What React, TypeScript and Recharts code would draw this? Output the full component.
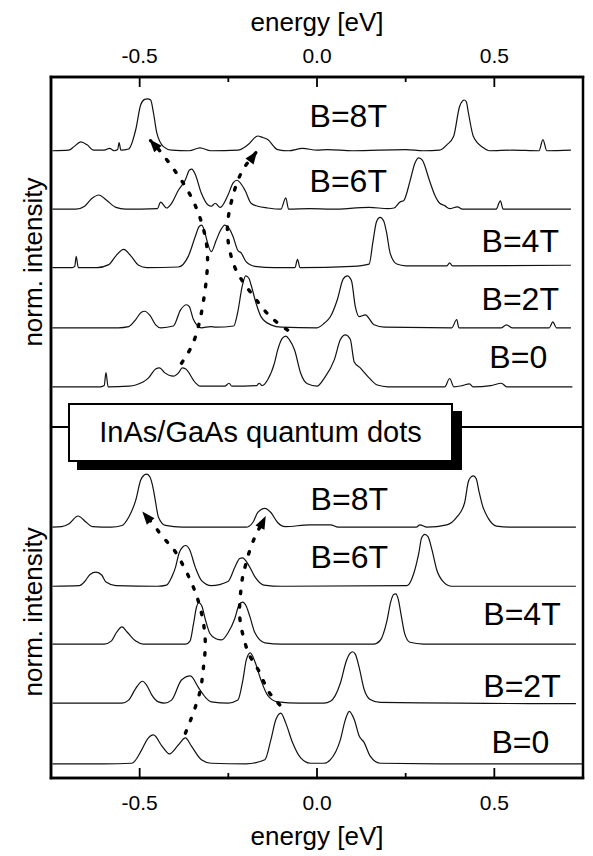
import React from 'react';
import { ComposedChart, Line, XAxis, YAxis, ReferenceLine, ReferenceArea, Scatter } from 'recharts';

type Pt = [number, number];

const FONT = "'Liberation Sans', Arial, Helvetica, sans-serif";

// ---- axes ----
const energyDomain: [number, number] = [-0.75, 0.75];
const energyTicks = [-0.5, -0.25, 0, 0.25, 0.5];
const energyTickLabels = ['-0.5', '', '0.0', '', '0.5'];
const intensityDomain: [number, number] = [0, 11.88];
const energyTitle = 'energy [eV]';
const intensityTitle = 'norm. intensity';
const sampleTitle = 'InAs/GaAs quantum dots';

// ---- stacking ----
const fieldLabels = ['B=8T', 'B=6T', 'B=4T', 'B=2T', 'B=0'];
const upperOffsets = [10.63, 9.64, 8.65, 7.63, 6.63];
const lowerOffsets = [4.25, 3.25, 2.27, 1.27, 0.24];
const panelDivider = 5.95;

// anchors (energy, intensity) of the field labels
const upperLabelAnchors: Pt[] = [[-0.021, 11.03], [-0.021, 9.93], [0.464, 8.92], [0.464, 7.93], [0.486, 6.95]];
const lowerLabelAnchors: Pt[] = [[-0.018, 4.54], [-0.018, 3.56], [0.469, 2.59], [0.469, 1.37], [0.492, 0.42]];

// ---- upper panel spectra: [energy (eV), normalized intensity] ----
const upper8T: Pt[] = [
  [-0.746, 0], [-0.7, 0.01], [-0.685, 0.07], [-0.666, 0.15], [-0.648, 0.1], [-0.63, 0.01], [-0.6, 0.01],
  [-0.585, 0.04], [-0.572, 0], [-0.562, 0.02], [-0.558, 0.14], [-0.553, 0.01], [-0.531, 0.03], [-0.511, 0.36],
  [-0.497, 0.78], [-0.486, 0.87], [-0.478, 0.88], [-0.469, 0.86], [-0.461, 0.64], [-0.452, 0.31],
  [-0.433, 0.07], [-0.41, 0.01], [-0.36, 0], [-0.33, 0.05], [-0.3, 0], [-0.223, 0.01], [-0.195, 0.1],
  [-0.167, 0.25], [-0.155, 0.23], [-0.139, 0.19], [-0.111, 0.02], [-0.08, 0], [-0.041, 0.04], [0, 0.01],
  [0.03, 0.02], [0.1, 0], [0.25, 0.02], [0.3, 0], [0.346, 0.01], [0.366, 0.1], [0.385, 0.24], [0.402, 0.75],
  [0.41, 0.84], [0.415, 0.86], [0.421, 0.83], [0.427, 0.64], [0.441, 0.24], [0.469, 0.05], [0.486, 0],
  [0.55, 0.01], [0.626, 0], [0.637, 0.19], [0.648, 0], [0.716, 0.01],
];
const upper6T: Pt[] = [
  [-0.746, 0], [-0.68, 0], [-0.655, 0.05], [-0.635, 0.18], [-0.615, 0.24], [-0.595, 0.16], [-0.567, 0.03],
  [-0.54, 0], [-0.45, 0.01], [-0.441, 0.12], [-0.424, 0.02], [-0.41, 0.1], [-0.391, 0.32], [-0.371, 0.5],
  [-0.36, 0.66], [-0.353, 0.68], [-0.344, 0.6], [-0.326, 0.27], [-0.307, 0.07], [-0.298, 0.05],
  [-0.287, 0.1], [-0.273, 0.03], [-0.251, 0.24], [-0.236, 0.45], [-0.226, 0.49], [-0.203, 0.32],
  [-0.186, 0.1], [-0.167, 0.05], [-0.139, 0.02], [-0.102, 0], [-0.088, 0.19], [-0.08, 0], [-0.02, 0.01],
  [0.04, 0], [0.147, 0.03], [0.2, 0.01], [0.217, 0.02], [0.234, 0.12], [0.245, 0.15], [0.262, 0.47],
  [0.276, 0.78], [0.287, 0.87], [0.297, 0.83], [0.318, 0.47], [0.332, 0.24], [0.346, 0.1], [0.36, 0.06],
  [0.374, 0.01], [0.396, 0.04], [0.41, 0], [0.505, 0], [0.517, 0.14], [0.525, 0], [0.716, 0],
];
const upper4T: Pt[] = [
  [-0.746, 0], [-0.69, 0], [-0.683, 0.02], [-0.679, 0.19], [-0.673, 0], [-0.62, 0], [-0.587, 0.05],
  [-0.567, 0.2], [-0.545, 0.31], [-0.525, 0.2], [-0.503, 0.04], [-0.48, 0], [-0.391, 0.01], [-0.363, 0.19],
  [-0.343, 0.53], [-0.333, 0.69], [-0.326, 0.72], [-0.318, 0.64], [-0.31, 0.45], [-0.298, 0.27],
  [-0.285, 0.45], [-0.273, 0.62], [-0.26, 0.72], [-0.25, 0.68], [-0.237, 0.53], [-0.223, 0.29],
  [-0.214, 0.25], [-0.2, 0.1], [-0.175, 0.02], [-0.12, 0], [-0.062, 0], [-0.055, 0.14], [-0.048, 0],
  [0.1, 0.02], [0.147, 0.06], [0.158, 0.45], [0.168, 0.78], [0.178, 0.85], [0.188, 0.79], [0.196, 0.6],
  [0.206, 0.25], [0.225, 0.06], [0.25, 0.03], [0.366, 0.03], [0.374, 0.08], [0.382, 0.03], [0.716, 0.04],
];
const upper2T: Pt[] = [
  [-0.746, 0], [-0.56, 0], [-0.531, 0.02], [-0.511, 0.14], [-0.496, 0.26], [-0.486, 0.28], [-0.47, 0.2],
  [-0.455, 0.05], [-0.44, 0], [-0.405, 0.03], [-0.385, 0.3], [-0.368, 0.39], [-0.36, 0.36], [-0.349, 0.15],
  [-0.326, 0], [-0.3, 0.02], [-0.285, 0.01], [-0.235, 0.03], [-0.223, 0.28], [-0.211, 0.7], [-0.201, 0.88],
  [-0.192, 0.84], [-0.186, 0.73], [-0.172, 0.42], [-0.158, 0.19], [-0.13, 0.05], [-0.1, 0.01], [0, 0],
  [0.021, 0.08], [0.038, 0.19], [0.057, 0.47], [0.074, 0.83], [0.085, 0.88], [0.097, 0.8], [0.108, 0.36],
  [0.119, 0.19], [0.136, 0.22], [0.161, 0.05], [0.19, 0.01], [0.38, 0], [0.394, 0.14], [0.4, 0], [0.52, 0],
  [0.534, 0.05], [0.55, 0], [0.655, 0], [0.665, 0.1], [0.675, 0], [0.716, 0],
];
const upper0T: Pt[] = [
  [-0.746, 0], [-0.61, 0], [-0.6, 0.02], [-0.595, 0.24], [-0.589, 0], [-0.53, 0.01], [-0.511, 0.03],
  [-0.475, 0.15], [-0.455, 0.3], [-0.444, 0.32], [-0.43, 0.24], [-0.405, 0.18], [-0.39, 0.24], [-0.38, 0.32],
  [-0.37, 0.3], [-0.343, 0.07], [-0.33, 0.01], [-0.26, 0.01], [-0.248, 0.06], [-0.24, 0.01], [-0.17, 0.02],
  [-0.163, 0.06], [-0.155, 0.02], [-0.139, 0.12], [-0.12, 0.4], [-0.111, 0.62], [-0.098, 0.82],
  [-0.088, 0.86], [-0.078, 0.8], [-0.063, 0.62], [-0.046, 0.23], [-0.027, 0.05], [0, 0.01], [0.021, 0.15],
  [0.049, 0.46], [0.066, 0.8], [0.08, 0.88], [0.094, 0.8], [0.105, 0.42], [0.122, 0.32], [0.147, 0.15],
  [0.17, 0.03], [0.2, 0], [0.36, 0], [0.374, 0.14], [0.386, 0], [0.41, 0.02], [0.43, 0.05], [0.44, 0],
  [0.49, 0.02], [0.52, 0.06], [0.535, 0], [0.72, 0],
];

// ---- lower panel spectra ----
const lower8T: Pt[] = [
  [-0.746, 0], [-0.72, 0.01], [-0.699, 0.06], [-0.674, 0.19], [-0.65, 0.08], [-0.633, 0.01], [-0.58, 0],
  [-0.55, 0.03], [-0.531, 0.17], [-0.511, 0.46], [-0.497, 0.8], [-0.488, 0.88], [-0.48, 0.9], [-0.471, 0.85],
  [-0.461, 0.63], [-0.455, 0.42], [-0.447, 0.17], [-0.427, 0.03], [-0.38, 0], [-0.2, 0], [-0.181, 0.08],
  [-0.167, 0.25], [-0.147, 0.32], [-0.13, 0.25], [-0.111, 0.08], [-0.09, 0.01], [-0.021, 0.04], [0.038, 0.04],
  [0.06, 0], [0.28, 0], [0.29, 0.04], [0.31, 0], [0.366, 0.04], [0.394, 0.17], [0.416, 0.41], [0.427, 0.78],
  [0.434, 0.85], [0.441, 0.87], [0.449, 0.82], [0.457, 0.6], [0.466, 0.38], [0.483, 0.15], [0.506, 0.02],
  [0.55, 0], [0.73, 0],
];
const lower6T: Pt[] = [
  [-0.746, 0], [-0.67, 0.01], [-0.655, 0.08], [-0.64, 0.2], [-0.623, 0.24], [-0.607, 0.19], [-0.595, 0.07],
  [-0.567, 0.01], [-0.45, 0], [-0.424, 0.02], [-0.41, 0.15], [-0.399, 0.32], [-0.389, 0.56], [-0.378, 0.67],
  [-0.37, 0.69], [-0.36, 0.63], [-0.343, 0.32], [-0.326, 0.1], [-0.298, 0.01], [-0.251, 0.08],
  [-0.231, 0.33], [-0.218, 0.47], [-0.21, 0.48], [-0.195, 0.38], [-0.175, 0.16], [-0.15, 0.02], [-0.1, 0],
  [0.254, 0.01], [0.273, 0.22], [0.287, 0.56], [0.295, 0.82], [0.304, 0.88], [0.313, 0.84], [0.324, 0.62],
  [0.338, 0.27], [0.357, 0.07], [0.38, 0], [0.73, 0],
];
const lower4T: Pt[] = [
  [-0.746, 0], [-0.6, 0], [-0.58, 0.05], [-0.565, 0.2], [-0.55, 0.29], [-0.535, 0.2], [-0.511, 0.05],
  [-0.49, 0], [-0.37, 0], [-0.358, 0.05], [-0.348, 0.35], [-0.34, 0.62], [-0.333, 0.7], [-0.325, 0.65],
  [-0.315, 0.42], [-0.302, 0.18], [-0.285, 0.09], [-0.269, 0.07], [-0.25, 0.2], [-0.232, 0.43],
  [-0.22, 0.66], [-0.21, 0.71], [-0.2, 0.65], [-0.189, 0.46], [-0.175, 0.19], [-0.147, 0.02], [-0.1, 0],
  [0.16, 0], [0.178, 0.06], [0.197, 0.39], [0.208, 0.72], [0.216, 0.84], [0.222, 0.85], [0.229, 0.76],
  [0.237, 0.5], [0.247, 0.18], [0.262, 0.03], [0.3, 0], [0.73, 0],
];
const lower2T: Pt[] = [
  [-0.746, 0], [-0.55, 0], [-0.531, 0.05], [-0.511, 0.25], [-0.492, 0.37], [-0.48, 0.3], [-0.466, 0.14],
  [-0.447, 0.02], [-0.43, 0], [-0.41, 0.05], [-0.382, 0.39], [-0.357, 0.46], [-0.335, 0.27], [-0.315, 0.1],
  [-0.298, 0.02], [-0.25, 0], [-0.223, 0.05], [-0.209, 0.39], [-0.199, 0.74], [-0.188, 0.85],
  [-0.175, 0.7], [-0.158, 0.39], [-0.139, 0.13], [-0.111, 0.02], [-0.05, 0], [0.02, 0], [0.038, 0.03],
  [0.066, 0.34], [0.082, 0.7], [0.093, 0.84], [0.1, 0.87], [0.108, 0.83], [0.119, 0.6], [0.133, 0.23],
  [0.15, 0.06], [0.178, 0.01], [0.4, 0], [0.6, -0.01], [0.73, -0.01],
];
const lower0T: Pt[] = [
  [-0.746, 0], [-0.6, 0], [-0.522, 0.01], [-0.494, 0.24], [-0.478, 0.42], [-0.461, 0.49], [-0.438, 0.31],
  [-0.416, 0.17], [-0.391, 0.32], [-0.371, 0.44], [-0.354, 0.3], [-0.326, 0.07], [-0.298, 0.01], [-0.2, 0],
  [-0.147, 0.07], [-0.13, 0.41], [-0.116, 0.75], [-0.102, 0.86], [-0.088, 0.69], [-0.069, 0.36],
  [-0.046, 0.1], [-0.018, 0.01], [0.02, 0.01], [0.038, 0.07], [0.066, 0.41], [0.08, 0.75], [0.091, 0.89],
  [0.105, 0.75], [0.119, 0.47], [0.133, 0.36], [0.15, 0.13], [0.178, 0.01], [0.4, 0], [0.749, 0],
];

// ---- dotted guide arrows (energy, stacked intensity), drawn tail to head ----
const upperArrowLeft: Pt[] = [
  [-0.382, 7.03], [-0.354, 7.31], [-0.335, 7.64], [-0.321, 8.05], [-0.31, 8.58], [-0.312, 9.07],
  [-0.335, 9.58], [-0.377, 10.08], [-0.438, 10.59], [-0.469, 10.8],
];
const upperArrowRight: Pt[] = [
  [-0.083, 7.59], [-0.13, 7.81], [-0.167, 8.07], [-0.203, 8.36], [-0.234, 8.69], [-0.251, 9.12],
  [-0.251, 9.46], [-0.24, 9.8], [-0.214, 10.25], [-0.172, 10.6],
];
const lowerArrowLeft: Pt[] = [
  [-0.371, 0.76], [-0.349, 1.1], [-0.329, 1.49], [-0.321, 1.83], [-0.315, 2.29], [-0.326, 2.8],
  [-0.354, 3.31], [-0.399, 3.83], [-0.427, 4.03], [-0.461, 4.29], [-0.489, 4.49],
];
const lowerArrowRight: Pt[] = [
  [-0.105, 1.24], [-0.139, 1.49], [-0.161, 1.78], [-0.186, 2.03], [-0.203, 2.29], [-0.217, 2.68],
  [-0.217, 3.02], [-0.211, 3.36], [-0.2, 3.64], [-0.181, 4.0], [-0.147, 4.41],
];

const upperSpectra = [upper8T, upper6T, upper4T, upper2T, upper0T];
const lowerSpectra = [lower8T, lower6T, lower4T, lower2T, lower0T];
const arrows = [upperArrowLeft, upperArrowRight, lowerArrowLeft, lowerArrowRight];

// ---- layout ----
const CHART_W = 577;
const CHART_H = 848;
const TOP_AXIS_H = 69;
const BOTTOM_AXIS_H = 78;
const LEFT_AXIS_W = 43;
const RIGHT_GAP = 2;
const PLOT_W = CHART_W - LEFT_AXIS_W - RIGHT_GAP;
const PLOT_H = CHART_H - TOP_AXIS_H - BOTTOM_AXIS_H;
const PX_PER_E = PLOT_W / (energyDomain[1] - energyDomain[0]);
const PX_PER_U = PLOT_H / (intensityDomain[1] - intensityDomain[0]);

const frameStroke = { stroke: '#000', strokeWidth: 2.5, strokeLinecap: 'square' as const };

const spectrumRows = (pts: Pt[], offset: number) => pts.map(([e, v]) => ({ e, y: offset + v }));
const pathRows = (pts: Pt[]) => pts.map(([e, u]) => ({ e, y: u }));

const labelRows = [
  ...upperLabelAnchors.map(([e, u], i) => ({ e, y: u, text: fieldLabels[i] })),
  ...lowerLabelAnchors.map(([e, u], i) => ({ e, y: u, text: fieldLabels[i] })),
];

const tickText = (v: number) => energyTickLabels[energyTicks.indexOf(v)] ?? '';

function BottomTick(props: any) {
  const { x, y, payload } = props;
  const label = tickText(payload.value);
  const len = label ? 10 : 5;
  return (
    <g>
      <line x1={x} y1={y} x2={x} y2={y - len} stroke="#000" strokeWidth={1.8} />
      {label ? (
        <text x={x} y={y + 31.5} textAnchor="middle" fontSize={21} fontFamily={FONT} fill="#000">
          {label}
        </text>
      ) : null}
    </g>
  );
}

function TopTick(props: any) {
  const { x, y, payload } = props;
  const label = tickText(payload.value);
  const len = label ? 10 : 5;
  return (
    <g>
      <line x1={x} y1={y} x2={x} y2={y + len} stroke="#000" strokeWidth={1.8} />
      {label ? (
        <text x={x} y={y - 14} textAnchor="middle" fontSize={21} fontFamily={FONT} fill="#000">
          {label}
        </text>
      ) : null}
    </g>
  );
}

const bottomTitle = (props: any) => {
  const vb = props.viewBox;
  return (
    <text x={vb.x + vb.width / 2} y={vb.y + 67} textAnchor="middle" fontSize={26} fontFamily={FONT} fill="#000">
      {energyTitle}
    </text>
  );
};

const topTitle = (props: any) => {
  const vb = props.viewBox;
  return (
    <text x={vb.x + vb.width / 2} y={vb.y + 23} textAnchor="middle" fontSize={26} fontFamily={FONT} fill="#000">
      {energyTitle}
    </text>
  );
};

// one rotated title per panel, centred on each panel's spectra
const intensityTitles = (props: any) => {
  const vb = props.viewBox;
  const x = vb.x + 34;
  return (
    <g>
      {[0.264, 0.763].map((f) => {
        const y = vb.y + vb.height * f;
        return (
          <text
            key={f}
            x={x}
            y={y}
            transform={`rotate(-90, ${x}, ${y})`}
            textAnchor="middle"
            fontSize={26}
            fontFamily={FONT}
            fill="#000"
          >
            {intensityTitle}
          </text>
        );
      })}
    </g>
  );
};

const FieldLabel = (props: any) => (
  <text x={props.cx} y={props.cy} fontSize={32} fontFamily={FONT} fill="#000">
    {props.payload.text}
  </text>
);

function arrowHead(pts: Pt[]) {
  const n = pts.length;
  const [e1, u1] = pts[n - 2];
  const [e2, u2] = pts[n - 1];
  const angle = (Math.atan2(-(u2 - u1) * PX_PER_U, (e2 - e1) * PX_PER_E) * 180) / Math.PI;
  return (props: any) => {
    if (props.index !== n - 1) return <g key={`d${props.index}`} />;
    return (
      <path
        key={`d${props.index}`}
        d="M 2 0 L -11 -5 L -11 5 Z"
        transform={`translate(${props.cx},${props.cy}) rotate(${angle})`}
        fill="#000"
        stroke="none"
      />
    );
  };
}

export default function App() {
  return (
    <div style={{ position: 'relative', width: CHART_W, height: CHART_H }}>
      {/* the figure fills the window exactly; keep scrollbars from eating into it */}
      <style>{'html, body { overflow: hidden; }'}</style>
      <ComposedChart
        width={CHART_W}
        height={CHART_H}
        margin={{ top: 0, right: RIGHT_GAP, bottom: 0, left: 0 }}
      >
        <XAxis
          xAxisId="bottom"
          type="number"
          dataKey="e"
          domain={energyDomain}
          allowDataOverflow
          ticks={energyTicks}
          interval={0}
          height={BOTTOM_AXIS_H}
          tickSize={0}
          tickMargin={0}
          tickLine={false}
          tick={<BottomTick />}
          axisLine={frameStroke}
          label={bottomTitle}
        />
        <XAxis
          xAxisId="top"
          orientation="top"
          type="number"
          dataKey="e"
          domain={energyDomain}
          allowDataOverflow
          ticks={energyTicks}
          interval={0}
          height={TOP_AXIS_H}
          tickSize={0}
          tickMargin={0}
          tickLine={false}
          tick={<TopTick />}
          axisLine={frameStroke}
          label={topTitle}
        />
        <YAxis
          yAxisId="left"
          type="number"
          domain={intensityDomain}
          allowDataOverflow
          width={LEFT_AXIS_W}
          tick={false}
          tickLine={false}
          axisLine={frameStroke}
          label={intensityTitles}
        />
        {/* outline of the plotting area */}
        <ReferenceArea
          xAxisId="bottom"
          yAxisId="left"
          x1={energyDomain[0]}
          x2={energyDomain[1]}
          y1={intensityDomain[0]}
          y2={intensityDomain[1]}
          fill="none"
          fillOpacity={0}
          stroke="#000"
          strokeWidth={2.5}
          strokeOpacity={1}
          ifOverflow="visible"
        />
        <ReferenceLine xAxisId="bottom" yAxisId="left" y={panelDivider} stroke="#000" strokeWidth={2} />
        {upperSpectra.map((pts, i) => (
          <Line
            key={`u${i}`}
            xAxisId="bottom"
            yAxisId="left"
            data={spectrumRows(pts, upperOffsets[i])}
            dataKey="y"
            type="monotone"
            stroke="#111"
            strokeWidth={1.2}
            dot={false}
            activeDot={false}
            isAnimationActive={false}
          />
        ))}
        {lowerSpectra.map((pts, i) => (
          <Line
            key={`l${i}`}
            xAxisId="bottom"
            yAxisId="left"
            data={spectrumRows(pts, lowerOffsets[i])}
            dataKey="y"
            type="monotone"
            stroke="#111"
            strokeWidth={1.2}
            dot={false}
            activeDot={false}
            isAnimationActive={false}
          />
        ))}
        {arrows.map((pts, i) => (
          <Line
            key={`a${i}`}
            xAxisId="bottom"
            yAxisId="left"
            data={pathRows(pts)}
            dataKey="y"
            type="natural"
            stroke="#000"
            strokeWidth={3.4}
            strokeDasharray="2.5 11"
            strokeLinecap="round"
            dot={arrowHead(pts)}
            activeDot={false}
            isAnimationActive={false}
          />
        ))}
        <Scatter
          xAxisId="bottom"
          yAxisId="left"
          data={labelRows}
          dataKey="y"
          shape={FieldLabel}
          isAnimationActive={false}
        />
      </ComposedChart>
      <div
        style={{
          position: 'absolute',
          left: 60,
          top: 395,
          width: 385,
          height: 59,
          boxSizing: 'border-box',
          border: '2px solid #000',
          background: '#fff',
          boxShadow: '9px 8px 0 #000',
          display: 'flex',
          alignItems: 'center',
          justifyContent: 'center',
          fontFamily: FONT,
          fontSize: 29,
          color: '#000',
          whiteSpace: 'nowrap',
        }}
      >
        {sampleTitle}
      </div>
    </div>
  );
}
